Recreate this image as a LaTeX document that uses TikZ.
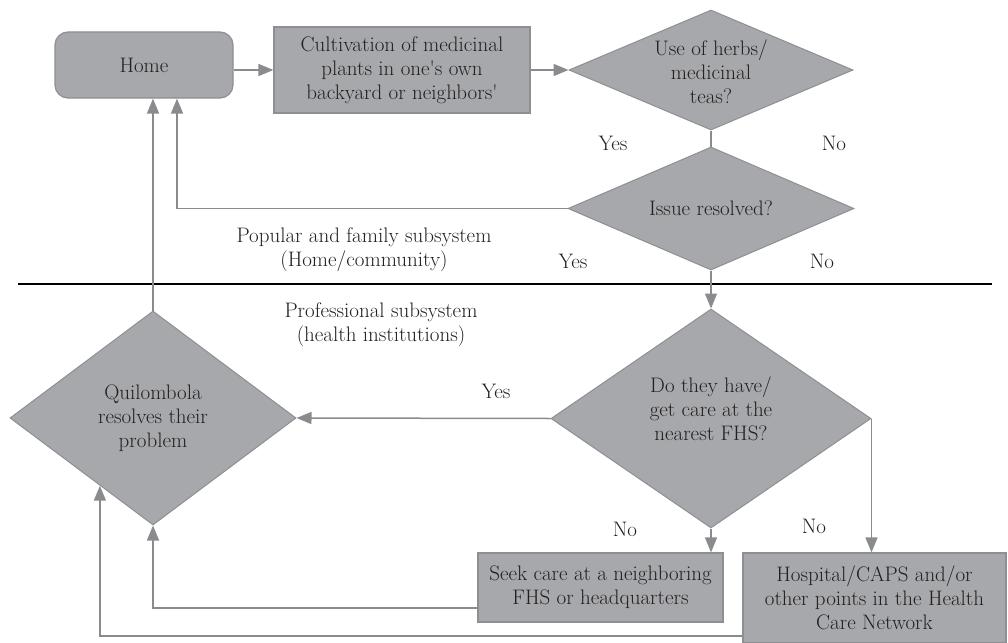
\documentclass[tikz,border=0pt]{standalone}
\usepackage{fontspec}
\usetikzlibrary{shapes.geometric,arrows.meta,calc}
\definecolor{boxfill}{HTML}{A7A8AB}
\definecolor{boxline}{HTML}{8E8F92}
\definecolor{arrcol}{HTML}{8A8B8E}
\definecolor{txtcol}{HTML}{231F20}
\begin{document}
\begin{tikzpicture}[x=1pt,y=-1pt,
  every node/.style={font=\fontsize{21}{24}\selectfont, text=txtcol},
  boxnode/.style={draw=boxline, fill=boxfill, line width=1.2pt, inner sep=0pt, align=center},
  dianode/.style={diamond, draw=boxline, fill=boxfill, line width=1pt, inner sep=0pt},
  txt/.style={align=center, inner sep=0pt},
  arr/.style={draw=arrcol, line width=1.5pt, -{Triangle[length=15pt,width=12pt]}},
  plainline/.style={draw=arrcol, line width=1.5pt},
  lbl/.style={inner sep=0pt}]
\useasboundingbox (0,0) rectangle (1008,642);

% separator
\coordinate (sepL) at (18,284);
\coordinate (sepR) at (992,284);
\draw[black, line width=1.3pt] (sepL) -- (sepR);

% nodes
\node[boxnode, rounded corners=13pt, minimum width=178pt, minimum height=66pt] (home) at (144,65) {Home};
\node[boxnode, minimum width=256pt, minimum height=86pt] (cult) at (402,70) {Cultivation of medicinal\\plants in one\textquotesingle s own\\backyard or neighbors\textquotesingle};
\node[dianode, minimum width=284pt, minimum height=120pt] (d1) at (711,70) {};
\node[txt] at ([yshift=-2pt]d1.center) {Use of herbs/\\medicinal\\teas?};
\node[dianode, minimum width=286pt, minimum height=123pt] (d2) at (711,208.5) {};
\node[txt] at (d2.center) {Issue resolved?};
\node[dianode, minimum width=320pt, minimum height=219pt] (d3) at (711,418.5) {};
\node[txt] at ([yshift=10pt]d3.center) {Do they have/\\get care at the\\nearest FHS?};
\node[dianode, minimum width=286pt, minimum height=214pt] (quil) at (153,418) {};
\node[txt] at (quil.center) {Quilombola\\resolves their\\problem};
\node[boxnode, minimum width=245pt, minimum height=69pt] (seek) at (600.5,587.5) {Seek care at a neighboring\\FHS or headquarters};
\node[boxnode, minimum width=263pt, minimum height=90pt] (hosp) at (874.5,598) {Hospital/CAPS and/or\\other points in the Health\\Care Network};

\coordinate (qin) at ($(quil.west)!0.63!(quil.south)$);

% labels
\node[lbl] (y1) at (613,143) {Yes};
\node[lbl] (n1) at (834,143) {No};
\node[lbl] (y2) at (573,261) {Yes};
\node[lbl] (n2) at (822,261) {No};
\node[lbl] (y3) at (496,391) {Yes};
\node[lbl] (n3) at (625,529) {No};
\node[lbl] (n4) at (814,526) {No};
\node[txt] (pop) at (364,250) {Popular and family subsystem\\(Home/community)};
\node[txt] (prof) at (381,325) {Professional subsystem\\(health institutions)};

% connectors
\draw[arr] (home.east |- cult.west) -- (cult.west);
\draw[arr] (cult.east) -- (d1.west);
\draw[plainline] (d1.south) -- (d2.north);
\draw[arr] (d2.west) -| ([xshift=33pt]home.south);
\draw[arr] (d2.south) -- (d3.north);
\draw[arr] (quil.north) -- (quil.north |- home.south);
\draw[arr] (d3.west) -- (quil.east);
\draw[arr] (d3.south) -- (d3.south |- seek.north);
\draw[arr] (d3.east) -- (d3.east |- hosp.north);
\draw[arr] ([yshift=-20.5pt]seek.west) -| (quil.south);
\draw[arr] ([yshift=-38pt]hosp.west) -| (qin);
\end{tikzpicture}
\end{document}
